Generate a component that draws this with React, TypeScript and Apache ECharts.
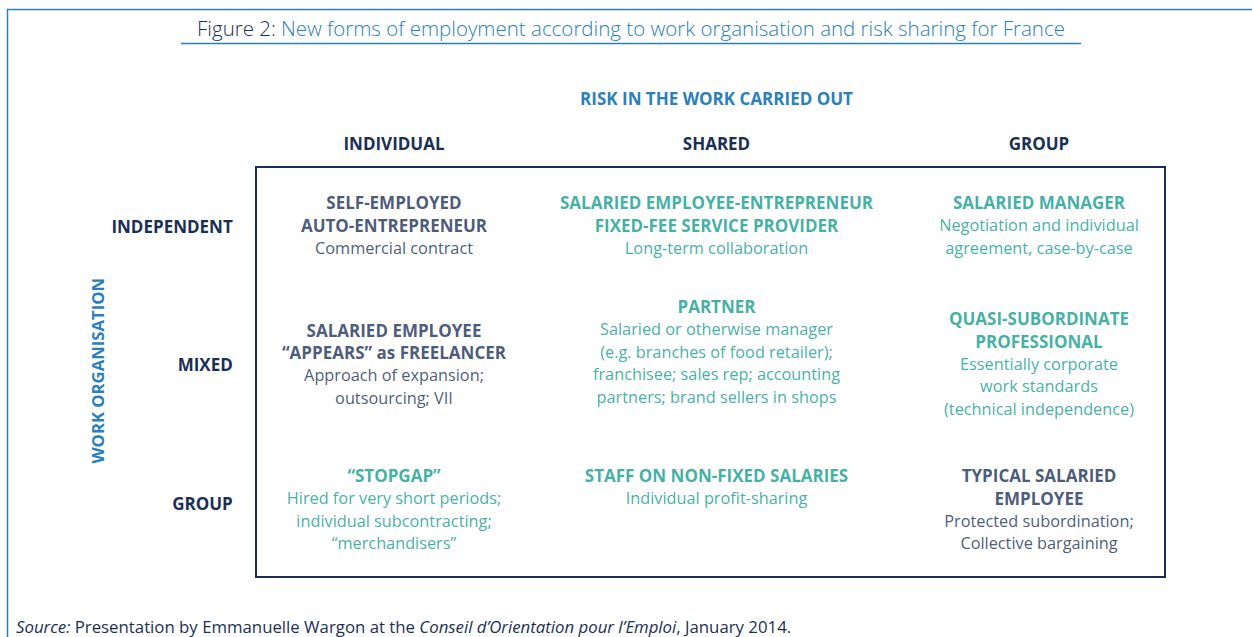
import React, { useEffect, useRef } from "react";
import * as echarts from "echarts";

const FONT = "'Open Sans', Roboto, sans-serif";
const NAVY = "#1a2f55";
const TEAL = "#0f9c8b";
const BLUE = "#2a80b9";

const titleLead = "Figure 2:";
const titleText = "New forms of employment according to work organisation and risk sharing for France";
const xAxisTitle = "RISK IN THE WORK CARRIED OUT";
const yAxisTitle = "WORK ORGANISATION";
const columns = ["INDIVIDUAL", "SHARED", "GROUP"];
const rows = ["INDEPENDENT", "MIXED", "GROUP"];

// cell headings (bold) per row, per column
const cellHeads: string[][][] = [
  [["SELF-EMPLOYED", "AUTO-ENTREPRENEUR"], ["SALARIED EMPLOYEE-ENTREPRENEUR", "FIXED-FEE SERVICE PROVIDER"], ["SALARIED MANAGER"]],
  [["SALARIED EMPLOYEE", "“APPEARS” as FREELANCER"], ["PARTNER"], ["QUASI-SUBORDINATE", "PROFESSIONAL"]],
  [["“STOPGAP”"], ["STAFF ON NON-FIXED SALARIES"], ["TYPICAL SALARIED", "EMPLOYEE"]],
];
// cell descriptions per row, per column
const cellNotes: string[][][] = [
  [["Commercial contract"], ["Long-term collaboration"], ["Negotiation and individual", "agreement, case-by-case"]],
  [
    ["Approach of expansion;", "outsourcing; VII"],
    ["Salaried or otherwise manager", "(e.g. branches of food retailer);", "franchisee; sales rep; accounting", "partners; brand sellers in shops"],
    ["Essentially corporate", "work standards", "(technical independence)"],
  ],
  [
    ["Hired for very short periods;", "individual subcontracting;", "“merchandisers”"],
    ["Individual profit-sharing"],
    ["Protected subordination;", "Collective bargaining"],
  ],
];
// tone of each cell
const cellTone: string[][] = [
  ["navy", "teal", "teal"],
  ["navy", "teal", "teal"],
  ["teal", "teal", "navy"],
];
// layout: vertical nudge of each text block (px)
const cellShift: number[][] = [
  [-1, -1, -1],
  [-1, -13, -1],
  [6, -17, 6],
];

const sourceParts = [
  ["i", "Source:"],
  ["r", " Presentation by Emmanuelle Wargon at the "],
  ["i", "Conseil d’Orientation pour l’Emploi"],
  ["r", ", January 2014."],
];

export default function App() {
  const ref = useRef<HTMLDivElement>(null);
  useEffect(() => {
    if (!ref.current) return;
    const chart = echarts.init(ref.current, null, { renderer: "svg" });

    const data: any[] = [];
    rows.forEach((_, r) => {
      columns.forEach((__, c) => {
        data.push({
          value: [c, r],
          label: { offset: [0, cellShift[r][c]] },
          heads: cellHeads[r][c],
          notes: cellNotes[r][c],
          tone: cellTone[r][c],
        });
      });
    });

    const option: any = {
      animation: false,
      title: {
        text: `{a|${titleLead}} {b|${titleText}}`,
        left: 631,
        top: 17,
        padding: 0,
        textAlign: "center",
        textStyle: {
          rich: {
            a: { color: NAVY, fontSize: 20.5, fontFamily: FONT, fontWeight: 300 },
            b: { color: BLUE, fontSize: 20.5, fontFamily: FONT, fontWeight: 300 },
          },
        },
      },
      grid: { left: 232.75, right: 51.75, top: 157, bottom: 64.5 },
      xAxis: {
        type: "category",
        position: "top",
        data: columns,
        axisLine: { show: false },
        axisTick: { show: false },
        splitLine: { show: false },
        axisLabel: { color: NAVY, fontFamily: FONT, fontWeight: "bold", fontSize: 17, margin: 5 },
        name: xAxisTitle,
        nameLocation: "middle",
        nameGap: 50,
        nameMoveOverlap: false,
        nameTextStyle: { color: BLUE, fontFamily: FONT, fontWeight: "bold", fontSize: 17 },
      },
      yAxis: {
        type: "category",
        inverse: true,
        data: rows,
        axisLine: { show: false },
        axisTick: { show: false },
        splitLine: { show: false },
        axisLabel: { color: NAVY, fontFamily: FONT, fontWeight: "bold", fontSize: 17, margin: 0 },
        name: yAxisTitle,
        nameLocation: "middle",
        nameRotate: 90,
        nameGap: 127,
        nameMoveOverlap: false,
        nameTextStyle: { color: BLUE, fontFamily: FONT, fontWeight: "bold", fontSize: 16.7, padding: [0, 12, 0, 0] },
      },
      series: [
        {
          type: "scatter",
          symbolSize: 1,
          itemStyle: { color: "rgba(0,0,0,0)" },
          data,
          label: {
            show: true,
            position: "inside",
            align: "center",
            verticalAlign: "middle",
            formatter: (p: any) => {
              const d = p.data;
              const t = d.tone === "navy" ? "N" : "T";
              const lines = [
                ...d.heads.map((s: string) => `{h${t}|${s}}`),
                ...d.notes.map((s: string) => `{n${t}|${s}}`),
              ];
              return lines.join("\n");
            },
            rich: {
              hN: { color: NAVY, fontFamily: FONT, fontWeight: "bold", fontSize: 17, lineHeight: 22.5, align: "center" },
              hT: { color: TEAL, fontFamily: FONT, fontWeight: "bold", fontSize: 17, lineHeight: 22.5, align: "center" },
              nN: { color: NAVY, fontFamily: FONT, fontSize: 16.3, lineHeight: 22.5, align: "center" },
              nT: { color: TEAL, fontFamily: FONT, fontSize: 16.3, lineHeight: 22.5, align: "center" },
            },
          },
        },
      ],
      graphic: [
        {
          type: "polyline",
          shape: { points: [[7.5, 637], [7.5, 9.5], [1252, 9.5]] },
          style: { stroke: BLUE, lineWidth: 1.5, fill: null },
        },
        {
          type: "line",
          shape: { x1: 181, y1: 43.5, x2: 1081, y2: 43.5 },
          style: { stroke: BLUE, lineWidth: 1.5 },
        },
        {
          type: "rect",
          shape: { x: 256, y: 167, width: 909, height: 410 },
          style: { stroke: NAVY, lineWidth: 2, fill: null },
        },
        {
          type: "text",
          x: 16,
          y: 626,
          style: {
            text: sourceParts.map(([k, s]) => `{${k}|${s}}`).join(""),
            verticalAlign: "middle",
            rich: {
              i: { fontStyle: "italic", fill: NAVY, fontFamily: FONT, fontSize: 16.8 },
              r: { fill: NAVY, fontFamily: FONT, fontSize: 16.8 },
            },
          },
        },
      ],
    };
    chart.setOption(option);
    return () => chart.dispose();
  }, []);
  return (
    <div
      ref={ref}
      style={{ position: "fixed", left: 0, top: 0, width: 1252, height: 637, background: "#fff" }}
    />
  );
}
